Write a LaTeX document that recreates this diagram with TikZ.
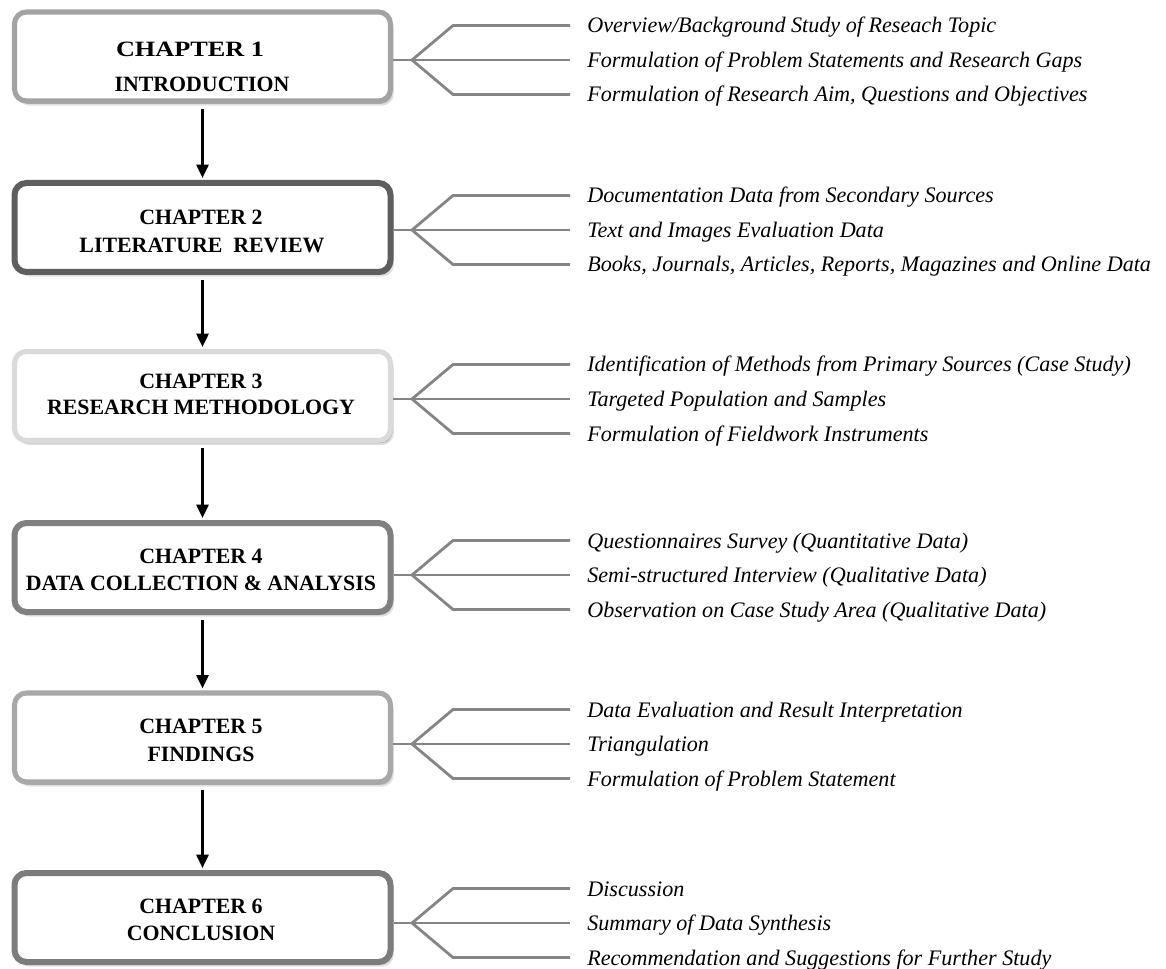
\documentclass[tikz,border=0pt]{standalone}
\usepackage{fontspec}
\usepackage{graphicx}
\setmainfont{Liberation Serif}
\usetikzlibrary{shadows,arrows.meta}
\definecolor{bcA}{HTML}{A3A3A3}
\definecolor{bcB}{HTML}{5E5E5E}
\definecolor{bcC}{HTML}{DADADA}
\definecolor{bcD}{HTML}{808080}
\definecolor{bcE}{HTML}{A8A8A8}
\definecolor{bcF}{HTML}{7C7C7C}
\definecolor{branchgray}{HTML}{858585}
\newcommand\mkbranch[6]{%
  \coordinate (#1s) at (412,#3);
  \coordinate (#1ka) at (453,#3-34.5);
  \coordinate (#1kc) at (453,#3+34.5);
  \coordinate (#1ea) at (570,#3-34.5);
  \coordinate (#1eb) at (570,#3);
  \coordinate (#1ec) at (570,#3+34.5);
  \draw[brline] (#2.east |- #1s) -- (#1s);
  \draw[brline] (#1s) -- (#1ka) -- (#1ea);
  \draw[brline] (#1s) -- (#1eb);
  \draw[brline] (#1s) -- (#1kc) -- (#1ec);
  \node[itemtxt] (#1ta) at (587,#3-34.5+7.5) {#4};
  \node[itemtxt] (#1tb) at (587,#3+7.5) {#5};
  \node[itemtxt] (#1tc) at (587,#3+34.5+7.5) {#6};
}
\begin{document}
\begin{tikzpicture}[x=0.75pt,y=-0.75pt,
  chapbox/.style={rectangle, rounded corners=9pt, fill=white, minimum width=282pt,
    minimum height=66.75pt, inner sep=0pt,
    drop shadow={shadow xshift=2.5pt, shadow yshift=-3.5pt, fill=black, opacity=0.12},
    drop shadow={shadow xshift=1.5pt, shadow yshift=-2.2pt, fill=black, opacity=0.2}},
  chaptxt/.style={anchor=base, inner sep=0pt, font=\fontsize{16.4}{20}\selectfont\bfseries},
  itemtxt/.style={anchor=base west, inner sep=0pt, font=\fontsize{16.6}{20}\selectfont\itshape},
  brline/.style={draw=branchgray, line width=2.1pt},
  flow/.style={draw=black, line width=2pt, -{Triangle[length=10pt,width=9pt]},
    shorten <=4pt, shorten >=1.5pt}]
\useasboundingbox (0,0) rectangle (1166,969);
\fill[white] (0,0) rectangle (1166,969);

% chapter boxes
\node[chapbox, draw=bcA, line width=3.8pt] (b1) at (202.5,56.5) {};
\node[chapbox, draw=bcB, line width=4.5pt] (b2) at (202.5,227.5) {};
\node[chapbox, draw=bcC, line width=3.8pt] (b3) at (202.5,396) {};
\node[chapbox, draw=bcD, line width=4.5pt] (b4) at (202.5,567.5) {};
\node[chapbox, draw=bcE, line width=3.8pt] (b5) at (202.5,737.5) {};
\node[chapbox, draw=bcF, line width=4.5pt] (b6) at (202.5,917.5) {};

% chapter texts
\node[chaptxt] (t1a) at (190,57) {\scalebox{1.2}[1]{CHAPTER 1}};
\node[chaptxt] (t1b) at (202,92) {INTRODUCTION};
\node[chaptxt] (t2a) at (201,225) {CHAPTER 2};
\node[chaptxt] (t2b) at (202,253) {LITERATURE\ \ REVIEW};
\node[chaptxt] (t3a) at (201,388) {CHAPTER 3};
\node[chaptxt] (t3b) at (201,415) {RESEARCH METHODOLOGY};
\node[chaptxt] (t4a) at (201,563) {CHAPTER 4};
\node[chaptxt] (t4b) at (201,590) {DATA COLLECTION \& ANALYSIS};
\node[chaptxt] (t5a) at (201,733) {CHAPTER 5};
\node[chaptxt] (t5b) at (201,761) {FINDINGS};
\node[chaptxt] (t6a) at (201,913) {CHAPTER 6};
\node[chaptxt] (t6b) at (201,940) {CONCLUSION};

% flow arrows
\draw[flow] (b1.south) -- (b2.north);
\draw[flow] (b2.south) -- (b3.north);
\draw[flow] (b3.south) -- (b4.north);
\draw[flow] (b4.south) -- (b5.north);
\draw[flow] (b5.south) -- (b6.north);

% branches
\mkbranch{r1}{b1}{60}{Overview/Background Study of Reseach Topic}{Formulation of Problem Statements and Research Gaps}{Formulation of Research Aim, Questions and Objectives}
\mkbranch{r2}{b2}{230}{Documentation Data from Secondary Sources}{Text and Images Evaluation Data}{Books, Journals, Articles, Reports, Magazines and Online Data}
\mkbranch{r3}{b3}{399}{Identification of Methods from Primary Sources (Case Study)}{Targeted Population and Samples}{Formulation of Fieldwork Instruments}
\mkbranch{r4}{b4}{575}{Questionnaires Survey (Quantitative Data)}{Semi-structured Interview (Qualitative Data)}{Observation on Case Study Area (Qualitative Data)}
\mkbranch{r5}{b5}{744}{Data Evaluation and Result Interpretation}{Triangulation}{Formulation of Problem Statement}
\mkbranch{r6}{b6}{923}{Discussion}{Summary of Data Synthesis}{Recommendation and Suggestions for Further Study}
\end{tikzpicture}
\end{document}
